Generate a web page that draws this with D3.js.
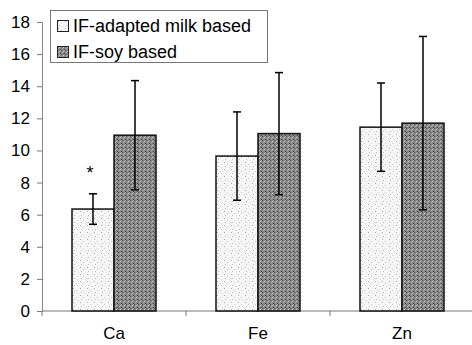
<!DOCTYPE html>
<html>
<head>
<meta charset="utf-8">
<script src="https://cdn.jsdelivr.net/npm/d3@7"></script>
<style>
  body { margin: 0; background: #fff; }
  svg { display: block; font-family: "Liberation Sans", Arial, sans-serif; }
</style>
</head>
<body>
<svg id="chart" width="472" height="345"></svg>
<script>
"use strict";

const minerals = ["Ca", "Fe", "Zn"];
const seriesNames = ["IF-adapted milk based", "IF-soy based"];
const milkMeans = [6.35, 9.65, 11.45];
const milkSD = [0.95, 2.75, 2.75];
const soyMeans = [10.95, 11.05, 11.7];
const soySD = [3.4, 3.8, 5.4];
const marks = ["*", "", ""];
const yTicks = [0, 2, 4, 6, 8, 10, 12, 14, 16, 18];

const svg = d3.select("#chart");
const plotLeft = 42, plotRight = 474, plotTop = 22, plotBottom = 311;

const y = d3.scaleLinear().domain([0, 18]).range([plotBottom, plotTop]);
const x = d3.scaleBand().domain(minerals).range([plotLeft, plotRight]);
const x1 = d3.scaleBand().domain(seriesNames).range([30, 114]);

// textures
const defs = svg.append("defs");
const light = defs.append("pattern").attr("id", "light")
  .attr("patternUnits", "userSpaceOnUse").attr("width", 7).attr("height", 7);
light.append("rect").attr("width", 7).attr("height", 7).attr("fill", "#f6f6f6");
[[1, 1, "#aaa"], [4, 3, "#ccc"], [2, 5, "#bbb"], [6, 6, "#ddd"]].forEach(([px, py, c]) =>
  light.append("rect").attr("x", px).attr("y", py).attr("width", 1).attr("height", 1).attr("fill", c));

const dark = defs.append("pattern").attr("id", "dark")
  .attr("patternUnits", "userSpaceOnUse").attr("width", 4).attr("height", 4);
dark.append("rect").attr("width", 4).attr("height", 4).attr("fill", "#858585");
[[0, 0, "#555"], [2, 1, "#c8c8c8"], [1, 2, "#b0b0b0"], [3, 3, "#444"], [3, 0, "#a0a0a0"]].forEach(([px, py, c]) =>
  dark.append("rect").attr("x", px).attr("y", py).attr("width", 1).attr("height", 1).attr("fill", c));

const fills = { "IF-adapted milk based": "url(#light)", "IF-soy based": "url(#dark)" };

// y axis
const yAxis = svg.append("g").attr("transform", `translate(${plotLeft},0)`)
  .call(d3.axisLeft(y).tickValues(yTicks).tickSize(5).tickPadding(7));
yAxis.select(".domain").attr("stroke", "#888");
yAxis.selectAll(".tick line").attr("stroke", "#777");
yAxis.selectAll(".tick text").attr("font-size", 17).attr("fill", "#000")
  .attr("font-family", "Liberation Sans, Arial, sans-serif");

// x axis with ticks at band boundaries
svg.append("line").attr("x1", plotLeft).attr("x2", 472).attr("y1", plotBottom).attr("y2", plotBottom)
  .attr("stroke", "#777");
svg.selectAll(".xtick").data(minerals).enter().append("line")
  .attr("x1", d => x(d)).attr("x2", d => x(d))
  .attr("y1", plotBottom).attr("y2", plotBottom + 5).attr("stroke", "#777");
svg.selectAll(".xlabel").data(minerals).enter().append("text")
  .attr("x", d => x(d) + x.bandwidth() / 2).attr("y", 339)
  .attr("text-anchor", "middle").attr("font-size", 17).text(d => d);

const rows = minerals.map((m, i) => [
  { m, s: seriesNames[0], v: milkMeans[i], sd: milkSD[i], mark: marks[i] },
  { m, s: seriesNames[1], v: soyMeans[i], sd: soySD[i], mark: "" }
]).flat();

const bar = svg.selectAll(".bar").data(rows).enter().append("g")
  .attr("transform", d => `translate(${x(d.m) + x1(d.s)},0)`);

bar.append("rect")
  .attr("y", d => y(d.v)).attr("width", x1.bandwidth())
  .attr("height", d => y(0) - y(d.v))
  .attr("fill", d => fills[d.s]).attr("stroke", "#111").attr("stroke-width", 1.5);

const cx = x1.bandwidth() / 2;
bar.append("line").attr("x1", cx).attr("x2", cx)
  .attr("y1", d => y(d.v - d.sd)).attr("y2", d => y(d.v + d.sd))
  .attr("stroke", "#000").attr("stroke-width", 1.5);
bar.append("line").attr("x1", cx - 4).attr("x2", cx + 4)
  .attr("y1", d => y(d.v + d.sd)).attr("y2", d => y(d.v + d.sd))
  .attr("stroke", "#000").attr("stroke-width", 1.5);
bar.append("line").attr("x1", cx - 4).attr("x2", cx + 4)
  .attr("y1", d => y(d.v - d.sd)).attr("y2", d => y(d.v - d.sd))
  .attr("stroke", "#000").attr("stroke-width", 1.5);

bar.filter(d => d.mark).append("text")
  .attr("x", cx - 3).attr("y", d => y(d.v + d.sd) - 15)
  .attr("text-anchor", "middle").attr("font-size", 18).text(d => d.mark);

// legend
const legend = svg.append("g");
legend.append("rect").attr("x", 50.5).attr("y", 10.5).attr("width", 217).attr("height", 52)
  .attr("fill", "#fff").attr("stroke", "#777");
const item = legend.selectAll(".item").data(seriesNames).enter().append("g")
  .attr("transform", (d, i) => `translate(57,${20 + i * 26})`);
item.append("rect").attr("x", 0.5).attr("y", 0.5).attr("width", 11).attr("height", 11)
  .attr("fill", d => fills[d]).attr("stroke", "#222");
item.append("text").attr("x", 16).attr("y", 12).attr("font-size", 18).text(d => d);
</script>
</body>
</html>
